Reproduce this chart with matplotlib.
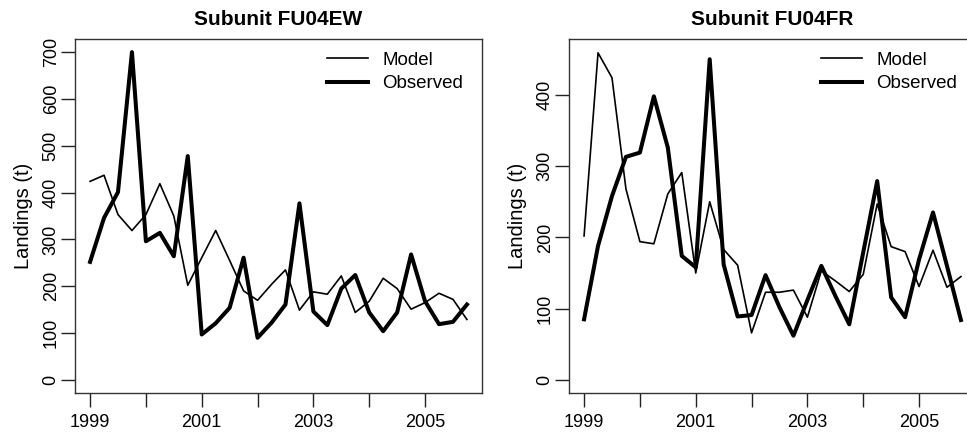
import numpy as np
import matplotlib.pyplot as plt

plt.rcParams['font.family'] = ['Liberation Sans', 'DejaVu Sans']

# quarterly series, 1999 Q1 .. 2005 Q4
quarters = 1999 + np.arange(28) / 4.0

ew_observed = [252, 346, 401, 700, 296, 314, 264, 478, 97, 121, 154, 261, 90, 122,
               161, 377, 146, 117, 195, 224, 144, 104, 144, 268, 168, 119, 124, 161]
ew_model = [424, 437, 353, 319, 353, 419, 350, 202, 261, 319, 255, 190, 170, 204,
            235, 149, 188, 183, 222, 144, 168, 217, 195, 151, 165, 185, 172, 129]

fr_observed = [85, 188, 258, 313, 319, 398, 326, 174, 158, 450, 162, 89, 91, 147,
               102, 62, 112, 160, 118, 78, 179, 279, 116, 88, 169, 235, 160, 84]
fr_model = [202, 459, 424, 268, 194, 191, 261, 291, 150, 250, 183, 161, 66, 123,
            123, 126, 88, 153, 139, 124, 148, 247, 187, 180, 131, 182, 130, 145]

panels = [
    ("Subunit FU04EW", ew_model, ew_observed, [0, 100, 200, 300, 400, 500, 600, 700], 700),
    ("Subunit FU04FR", fr_model, fr_observed, [0, 100, 200, 300, 400], 460),
]

year_ticks = list(range(1999, 2006))
year_labels = [str(y) if y % 2 == 1 else "" for y in year_ticks]

fig = plt.figure(figsize=(9.67, 4.32), dpi=100)
lefts = [75 / 967, 569 / 967]

for left, (title, model, observed, yticks, ymax) in zip(lefts, panels):
    ax = fig.add_axes([left, 39 / 432, 407 / 967, 354 / 432])
    ax.plot(quarters, model, color='black', lw=1.2, label='Model')
    ax.plot(quarters, observed, color='black', lw=2.9, label='Observed')

    span = quarters[-1] - quarters[0]
    ax.set_xlim(quarters[0] - 0.04 * span, quarters[-1] + 0.04 * span)
    ax.set_ylim(-0.04 * ymax, ymax * 1.04)

    ax.set_xticks(year_ticks)
    ax.set_xticklabels(year_labels)
    ax.set_yticks(yticks)
    ax.set_yticklabels([str(v) for v in yticks], rotation=90, va='center')
    ax.tick_params(direction='out', length=10, width=1, colors='#222222',
                   labelsize=13, labelcolor='black')
    ax.tick_params(axis='x', pad=5)
    ax.tick_params(axis='y', pad=1)
    for s in ax.spines.values():
        s.set_linewidth(1.0)
        s.set_color('#333333')

    ax.set_ylabel("Landings (t)", fontsize=14.5, labelpad=7)
    ax.set_title(title, fontsize=15, fontweight='bold', pad=10)
    ax.legend(loc='upper left', bbox_to_anchor=(0.619, 0.965), frameon=False,
              fontsize=13.5, handlelength=2.2, handletextpad=0.75,
              labelspacing=0.35, borderpad=0, borderaxespad=0)

fig.savefig("out.png", dpi=100)
